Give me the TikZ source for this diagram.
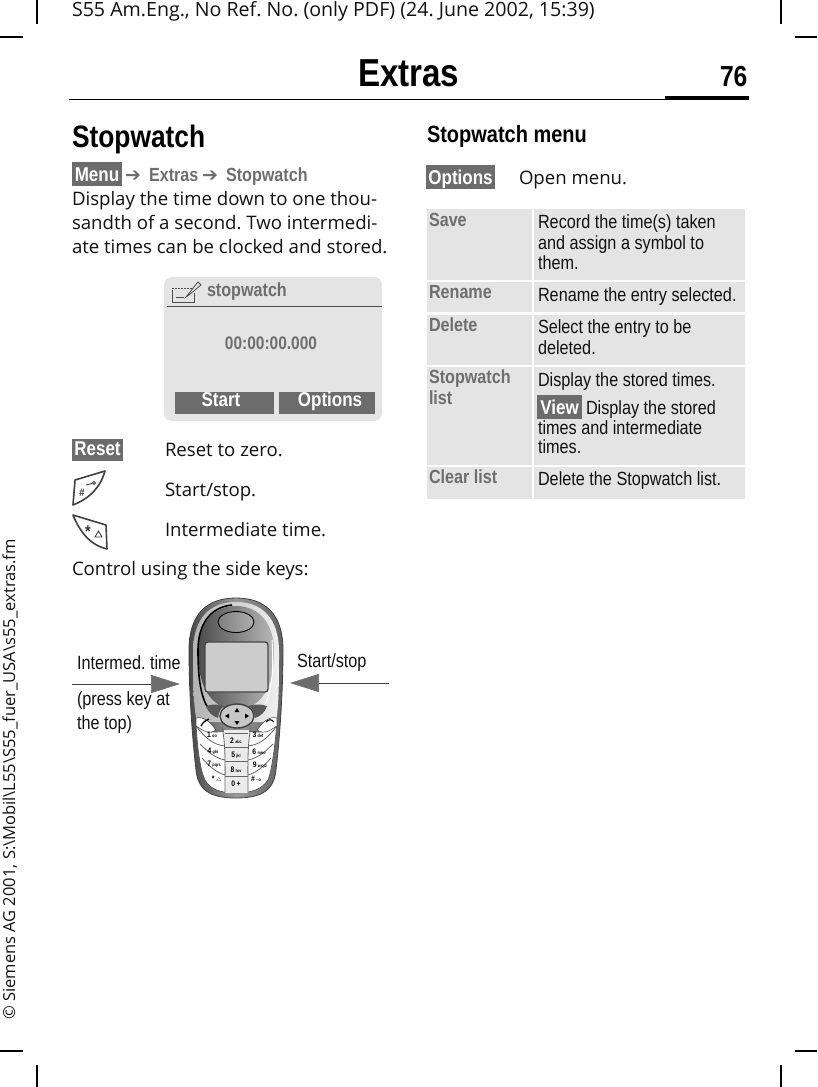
\documentclass[tikz,border=0pt]{standalone}
\usepackage{fontspec}
\usetikzlibrary{arrows.meta}
\setmainfont{Open Sans}
\newfontfamily\nar[FakeStretch=0.85]{Liberation Sans}
\newfontfamily\arr{DejaVu Sans}
\newcommand\fs[1]{\fontsize{#1}{#1}\selectfont}
\definecolor{keyg}{HTML}{6C6C6C}
\definecolor{labg}{HTML}{6E6E6E}
\definecolor{panel}{HTML}{E4E4E4}
\definecolor{ink}{HTML}{111111}
\frenchspacing
\tikzset{
 txt/.style={anchor=base west,inner sep=0pt,outer sep=0pt,text=ink},
 body/.style={txt,font=\frenchspacing\fs{18.6}},
 cell/.style={txt,font=\frenchspacing\nar\fs{19.1}},
 lab/.style={txt,font=\nar\bfseries\fs{19},text=labg},
 wht/.style={anchor=base,inner sep=0pt,outer sep=0pt,text=white,font=\nar\bfseries\fs{20}},
 crop/.style={line width=1.3pt,draw=black},
 kd/.style={draw=#1,line width=.8pt},
 kd/.default={black!60},
 dg/.style={anchor=base,inner sep=0pt,outer sep=0pt,text=black,font=\nar\bfseries\fs{8}},
 pointer/.style={draw=black!75,line width=.6pt,-{Triangle[length=29pt,width=18pt,fill=gray!85!black,color=gray!85!black]}},
}
\begin{document}
\begin{tikzpicture}[x=1pt,y=-1pt]
\useasboundingbox (0,0) rectangle (817,1087);
\fill[white] (0,0) rectangle (817,1087);
% crop marks
\draw[crop] (37,0)--(37,24) (781,0)--(781,24) (0,37)--(23,37) (795,37)--(817,37)
 (37,1065)--(37,1087) (781,1065)--(781,1087) (0,1051)--(23,1051) (795,1051)--(817,1051);
\node[txt,font=\frenchspacing\fs{19.6}] (hdr) at (72,16) {S55 Am.Eng., No Ref. No. (only PDF) (24. June 2002, 15:39)};
\node[anchor=base west,inner sep=0pt,rotate=90,font=\frenchspacing\fs{16.5},text=ink] (side) at (15,1020) {© Siemens AG 2001, S:\textbackslash Mobil\textbackslash L55\textbackslash S55\_fuer\_USA\textbackslash s55\_extras.fm};
\node[txt,font=\nar\bfseries\fs{39},text=black] (title) at (358,86) {Extras};
\node[txt,font=\nar\bfseries\fs{29},text=black] (page) at (720,86) {76};
\draw[black,line width=1.1pt] (69,99.5)--(665,99.5);
\fill[black] (665,96) rectangle (749,100);
\node[txt,font=\nar\bfseries\fs{31},text=black] (h1) at (72,147) {Stopwatch};
\node[txt,font=\nar\bfseries\fs{23.5},text=black] (h2) at (427,142) {Stopwatch menu};
% breadcrumb
\fill[keyg] (72,162) rectangle (122,186);
\node[wht] (menu) at (97,181) {Menu};
\node[txt,text=labg,font=\arr\fs{19}] (ar1) at (125,181) {➔};
\node[lab] (cr1) at (149,181) {Extras};
\node[txt,text=labg,font=\arr\fs{19}] (ar2) at (202,181) {➔};
\node[lab] (cr2) at (226,181) {Stopwatch};
\node[body] (p1) at (72,205) {Display the time down to one thou-};
\node[body] (p2) at (72,229) {sandth of a second. Two intermedi-};
\node[body] (p3) at (72,253) {ate times can be clocked and stored.};
% screen
\fill[panel,rounded corners=8pt] (164,277) rectangle (382,421);
\draw[black!70,line width=.8pt] (167,306)--(382,306);
\draw[black!70,line width=.8pt] (172,290)--(172,302)--(194,302)--(194,293);
\draw[black!70,line width=.8pt,dash pattern=on 2pt off 1pt] (172,288)--(192,288);
\draw[black!70,line width=.8pt] (176,297)--(184,297);
\draw[black!70,line width=.8pt] (186,297)--(198,282)--(201,285)--(189,295)--cycle;
\node[lab] (sw) at (207,296) {stopwatch};
\node[lab,anchor=base,font=\nar\bfseries\fs{18.2}] (time) at (271,349) {00:00:00.000};
\fill[keyg] (175,392) rectangle (274,414);
\fill[keyg] (279,392) rectangle (375,414);
\node[wht] (start) at (221,406) {Start};
\node[wht] (opt) at (330,406) {Options};
% key rows
\fill[keyg] (72,439) rectangle (123,461);
\node[wht] (reset) at (97.5,455) {Reset};
\node[body] (r1) at (165,456) {Reset to zero.};
\draw[black!75,line width=1.6pt,fill=white,line join=round] (75,480)--(105,471) .. controls (100,488) and (90,498) .. (73,505)--cycle;
\node[anchor=base,inner sep=0pt,font=\nar\bfseries\fs{11},text=black!80] (hash) at (82,496) {\#};
\draw[black!75,line width=.9pt] (86,485)--(92,483.5);
\draw[black!75,line width=.9pt] (94,483) circle (1.6pt);
\node[body] (r2) at (165,496) {Start/stop.};
\draw[black!75,line width=1.6pt,fill=white,line join=round] (73,515)--(106,525)--(107,549) .. controls (90,545) and (80,532) .. (73,515)--cycle;
\node[anchor=base,inner sep=0pt,font=\nar\bfseries\fs{17},text=black!80] (ast) at (88,537) {*};
\draw[black!75,line width=.9pt] (95,537)--(98.5,531)--(102,537)--cycle;
\node[body] (r3) at (165,536) {Intermediate time.};
\node[body] (p4) at (72,575) {Control using the side keys:};
% phone
\path[left color=black!72,right color=black!62,middle color=black!40,draw=black!75,line width=.8pt]
 (236,598) .. controls (266,598) and (283,615) .. (283,650) .. controls (283,690) and (280,735) .. (276,770)
 .. controls (274,790) and (262,798) .. (236,798) .. controls (210,798) and (198,790) .. (196,770)
 .. controls (192,735) and (189,690) .. (189,650) .. controls (189,615) and (206,598) .. (236,598)--cycle;
\path[left color=black!30,right color=black!6] (236,602) .. controls (262,602) and (279,618) .. (279,652)
 .. controls (279,680) and (279,705) .. (276,722) -- (197,722) .. controls (193,705) and (193,680) .. (193,652)
 .. controls (193,618) and (210,602) .. (236,602)--cycle;
\path[left color=black!70,right color=black!28] (236,606) .. controls (260,606) and (274,625) .. (274,650)
 .. controls (274,680) and (268,705) .. (236,712) .. controls (205,705) and (198,680) .. (198,650)
 .. controls (198,625) and (212,606) .. (236,606)--cycle;
\draw[black,line width=1.6pt] (232,605) .. controls (210,607) and (198,625) .. (198,650) .. controls (198,675) and (200,695) .. (208,708);
\draw[white,line width=1pt] (272,640) .. controls (274,670) and (272,695) .. (262,710);
\draw[black,line width=.9pt,left color=black!50,right color=black!32] (236,622) ellipse [x radius=18pt,y radius=10.5pt];
\draw[black!72,line width=1.3pt,fill=black!20,rounded corners=3pt] (205,642) rectangle (268,692);
% keypad
\path[fill=white,draw=black!70,line width=.6pt] (196,722) .. controls (205,736) and (215,732) .. (236,730)
 .. controls (258,732) and (268,736) .. (277,722) .. controls (275,745) and (272,770) .. (268,780)
 .. controls (262,789) and (252,793) .. (236,793) .. controls (220,793) and (210,789) .. (205,780)
 .. controls (200,770) and (197,745) .. (196,722)--cycle;
\fill[black!8] (224,730) -- (249,730) -- (248,793) -- (225,793)--cycle;
\draw[kd] (222,727) .. controls (226,745) and (225,770) .. (225,793);
\draw[kd] (251,727) .. controls (247,745) and (248,770) .. (248,793);
\draw[kd] (197,727) .. controls (205,738) and (214,745) .. (225,746);
\draw[kd] (276,727) .. controls (268,738) and (259,745) .. (248,746);
\draw[kd] (200,744) .. controls (208,752) and (215,758) .. (225,760);
\draw[kd] (273,744) .. controls (265,752) and (258,758) .. (248,760);
\draw[kd] (202,758) .. controls (208,765) and (215,772) .. (225,775);
\draw[kd] (271,758) .. controls (265,765) and (258,772) .. (248,775);
\draw[kd] (225,733)--(248,733) (225,747)--(248,747) (225,761)--(248,761) (225,776)--(248,776);
% soft keys and nav
\draw[black!70,line width=.6pt,fill=white] (196,718) .. controls (204,716) and (210,722) .. (216,730) .. controls (208,736) and (200,728) .. (196,726)--cycle;
\draw[black!70,line width=.6pt,fill=white] (277,718) .. controls (269,716) and (263,722) .. (257,730) .. controls (265,736) and (273,728) .. (277,726)--cycle;
\draw[black,line width=1.3pt] (201,726) .. controls (203,722) and (206,720) .. (209,719);
\draw[black,line width=1.1pt] (266,722) .. controls (268,719) and (272,719) .. (274,722);
\fill[black!65] (206,706) .. controls (212,704) and (218,704) .. (225,706) .. controls (220,708) and (219,712) .. (218,718) .. controls (212,716) and (208,712) .. (206,706)--cycle;
\fill[black!65] (267,706) .. controls (261,704) and (255,704) .. (248,706) .. controls (253,708) and (254,712) .. (255,718) .. controls (261,716) and (265,712) .. (267,706)--cycle;
\draw[black!75,line width=1.4pt,fill=black!22] (237,716) ellipse [x radius=17pt,y radius=12pt];
\fill[black] (237,708)--(234.5,712)--(239.5,712)--cycle (237,725)--(234.5,721)--(239.5,721)--cycle
 (225,716)--(229,713.5)--(229,718.5)--cycle (249,716)--(245,713.5)--(245,718.5)--cycle;
\node[dg] (k1) at (212,737) {1\,\fs{4.5}oo};
\node[dg] (k2) at (236,743) {2\,\fs{4.5}abc};
\node[dg] (k3) at (258,737) {3\,\fs{4.5}def};
\node[dg] (k4) at (213,753) {4\,\fs{4.5}ghi};
\node[dg] (k5) at (236,757) {5\,\fs{4.5}jkl};
\node[dg] (k6) at (259,754) {6\,\fs{4.5}mno};
\node[dg] (k7) at (214,766) {7\,\fs{4.5}pqrs};
\node[dg] (k8) at (236,772) {8\,\fs{4.5}tuv};
\node[dg] (k9) at (260,767) {9\,\fs{4.5}wxyz};
\node[dg] (k0) at (236,786) {0\,+};
\node[dg] (ks) at (217,781) {*\,\fs{5}$\triangle$};
\node[dg] (kh) at (256,781) {\#\,\fs{4.5}--o};
% arrows
\coordinate (la) at (72,684); \coordinate (lb) at (180,684);
\coordinate (ra) at (389,683); \coordinate (rb) at (290,683);
\draw[pointer] (la)--(lb);
\draw[pointer] (ra)--(rb);
\node[cell] (l1) at (77,669) {Intermed. time};
\node[cell] (l2) at (77,705) {(press key at};
\node[cell] (l3) at (77,729) {the top)};
\node[cell] (l4) at (297,667) {Start/stop};
% right column
\fill[keyg] (426,165) rectangle (495,189);
\node[wht] (ropt) at (460.5,184) {Options};
\node[body] (om) at (519,184) {Open menu.};
\foreach \a/\b/\c/\d in {427/209/532/280,534/209/745/280,427/282/532/312,534/282/745/312,427/315/532/365,534/315/745/365,427/367/532/465,534/367/745/465,427/467/532/499,534/467/745/499}
  \fill[panel] (\a,\b) rectangle (\c,\d);
\node[lab] (t1) at (429,226) {Save};
\node[lab] (t2) at (429,298) {Rename};
\node[lab] (t3) at (429,331) {Delete};
\node[lab] (t4) at (429,383) {Stopwatch};
\node[lab] (t4b) at (429,404) {list};
\node[lab] (t5) at (429,483) {Clear list};
\node[cell] (c1) at (538,228) {Record the time(s) taken};
\node[cell] (c1b) at (538,249) {and assign a symbol to};
\node[cell] (c1c) at (538,269) {them.};
\node[cell] (c2) at (538,301) {Rename the entry selected.};
\node[cell] (c3) at (538,333) {Select the entry to be};
\node[cell] (c3b) at (538,354) {deleted.};
\node[cell] (c4) at (538,386) {Display the stored times.};
\fill[keyg] (537,395) rectangle (582,419);
\node[wht] (view) at (559.5,414) {View};
\node[cell] (c4b) at (586,414) {Display the stored};
\node[cell] (c4c) at (538,434) {times and intermediate};
\node[cell] (c4d) at (538,453) {times.};
\node[cell] (c5) at (538,485) {Delete the Stopwatch list.};
\end{tikzpicture}
\end{document}
